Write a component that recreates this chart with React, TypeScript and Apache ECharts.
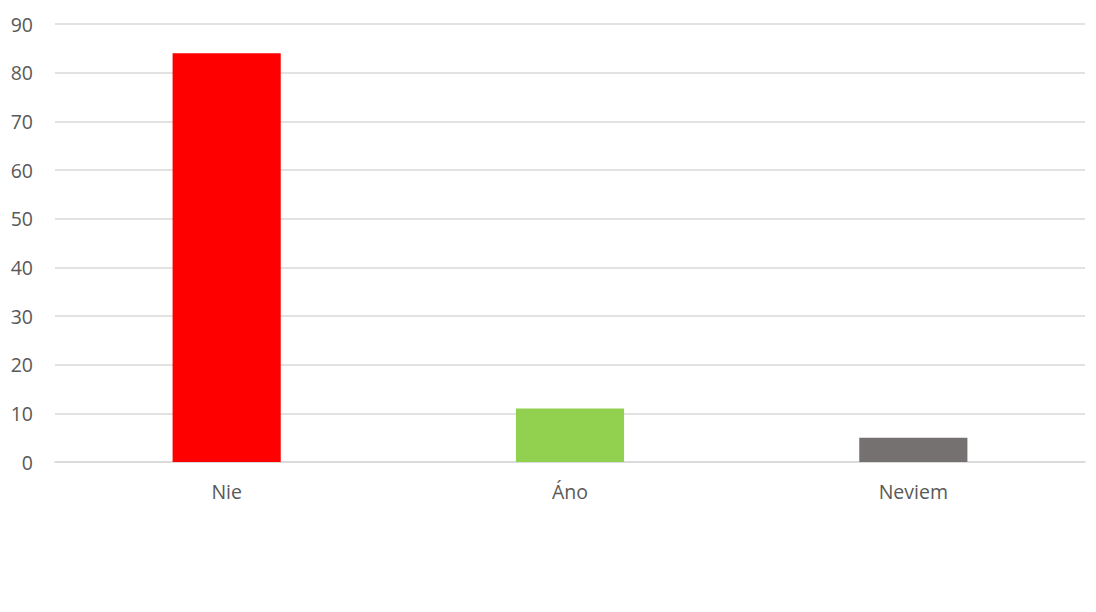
import { useEffect, useRef } from 'react';
import * as echarts from 'echarts';

const categories = ['Nie', 'Áno', 'Neviem'];
const values = [84, 11, 5];
const barColors = ['#FF0000', '#92D050', '#767171'];

export default function App() {
    const chartRef = useRef<HTMLDivElement>(null);

    useEffect(() => {
        document.body.style.margin = '0';
        if (!chartRef.current) return;
        const chart = echarts.init(chartRef.current, undefined, { renderer: 'svg' });
        const fontFamily = "'Open Sans', sans-serif";

        chart.setOption({
            animation: false,
            backgroundColor: '#FFFFFF',
            grid: { left: 55, right: 11, top: 24, bottom: 150 },
            xAxis: {
                type: 'category',
                data: categories,
                axisLine: { lineStyle: { color: '#D9D9D9', width: 1.5 } },
                axisTick: { show: false },
                axisLabel: { color: '#595959', fontSize: 19.5, fontFamily, margin: 19 }
            },
            yAxis: {
                type: 'value',
                min: 0,
                max: 90,
                interval: 10,
                axisLine: { show: false },
                axisTick: { show: false },
                axisLabel: { color: '#595959', fontSize: 19.5, fontFamily, margin: 22 },
                splitLine: { lineStyle: { color: '#D9D9D9', width: 1.5 } }
            },
            series: [
                {
                    type: 'bar',
                    barWidth: '31.5%',
                    data: values.map((v, i) => ({ value: v, itemStyle: { color: barColors[i] } }))
                }
            ]
        });

        return () => chart.dispose();
    }, []);

    return <div ref={chartRef} style={{ width: 1096, height: 612 }} />;
}
